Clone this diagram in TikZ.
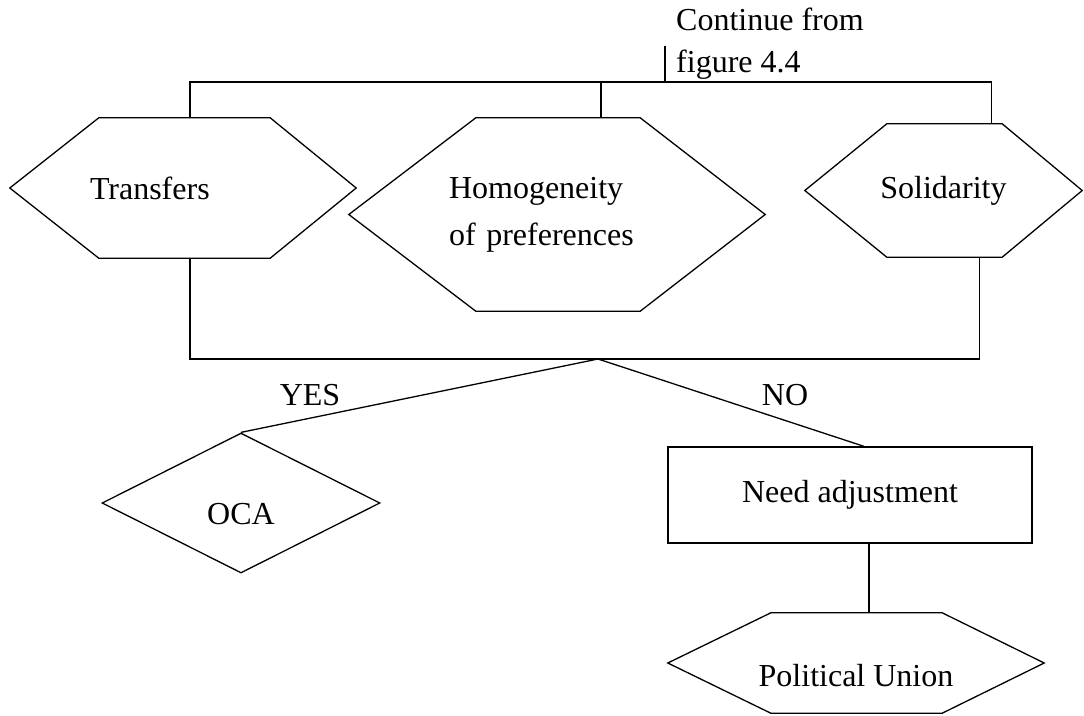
\documentclass[tikz,border=0pt]{standalone}
\usepackage{fontspec}
\setmainfont{Liberation Serif}
\usetikzlibrary{positioning, shapes.geometric}

\tikzset{
  txt/.style={inner sep=0pt, font=\fontsize{32}{42}\selectfont},
  hexbox/.style={txt, minimum width=#1},
  flowline/.style={line width=1.3pt, line join=miter},
  decision/.style={txt, diamond, draw, flowline, minimum width=278, minimum height=140},
  stepbox/.style={txt, rectangle, draw, flowline, minimum width=364, minimum height=96},
}

\begin{document}
\begin{tikzpicture}[x=1pt, y=-1pt]
\useasboundingbox (0,0) rectangle (1084,715);

% feed from the previous figure
\node[txt, anchor=west, align=left] (cont) at (676,44) {Continue from\\figure 4.4};
\coordinate (split) at (665,82);

% criteria
\node[hexbox=346, minimum height=140, inner xsep=80, text width=186, align=left] (transfers) at (183,188) {Transfers};
\node[hexbox=416, minimum height=193, inner xsep=100, text width=216, align=left,
      font=\fontsize{32}{47}\selectfont] (homog) at (557,214.5) {Homogeneity\\of preferences};
\node[hexbox=277, minimum height=133] (solid) at (943.5,190.5) {Solidarity};

\draw[flowline] (transfers.west) -- ([xshift=89]transfers.north west) -- ([xshift=-86]transfers.north east)
  -- (transfers.east) -- ([xshift=-86]transfers.south east) -- ([xshift=89]transfers.south west) -- cycle;
\draw[flowline] (homog.west) -- ([xshift=127]homog.north west) -- ([xshift=-125]homog.north east)
  -- (homog.east) -- ([xshift=-125]homog.south east) -- ([xshift=127]homog.south west) -- cycle;
\draw[flowline] (solid.west) -- ([xshift=82]solid.north west) -- ([xshift=-80]solid.north east)
  -- (solid.east) -- ([xshift=-80]solid.south east) -- ([xshift=82]solid.south west) -- cycle;

\draw[flowline] (split) -- ([yshift=-2]split |- cont.west);
\draw[flowline] ([xshift=7]transfers.north) |- (split) -| ([xshift=48]solid.north);
\draw[flowline] ([xshift=44]homog.north) -- ([xshift=44]homog.north |- split);

% outcome
\coordinate (join) at (598,359);
\draw[flowline] ([xshift=7]transfers.south) |- (join) -| ([xshift=36]solid.south);

\node[decision, text height=44] (oca) at (241,503) {OCA};
\node[stepbox] (adjust) at (850,495) {Need adjustment};
\node[hexbox=376, minimum height=100, text height=48] (union) at (856,663) {Political Union};
\draw[flowline] (union.west) -- ([xshift=103]union.north west) -- ([xshift=-102]union.north east)
  -- (union.east) -- ([xshift=-102]union.south east) -- ([xshift=103]union.south west) -- cycle;

\draw[flowline] (join) -- (oca.north);
\draw[flowline] (join) -- ([xshift=14]adjust.north);
\draw[flowline] ([xshift=19]adjust.south) -- ([xshift=19]adjust.south |- union.north);

\node[txt] (yes) at (310,395) {YES};
\node[txt] (no) at (785,395) {NO};

\end{tikzpicture}
\end{document}
